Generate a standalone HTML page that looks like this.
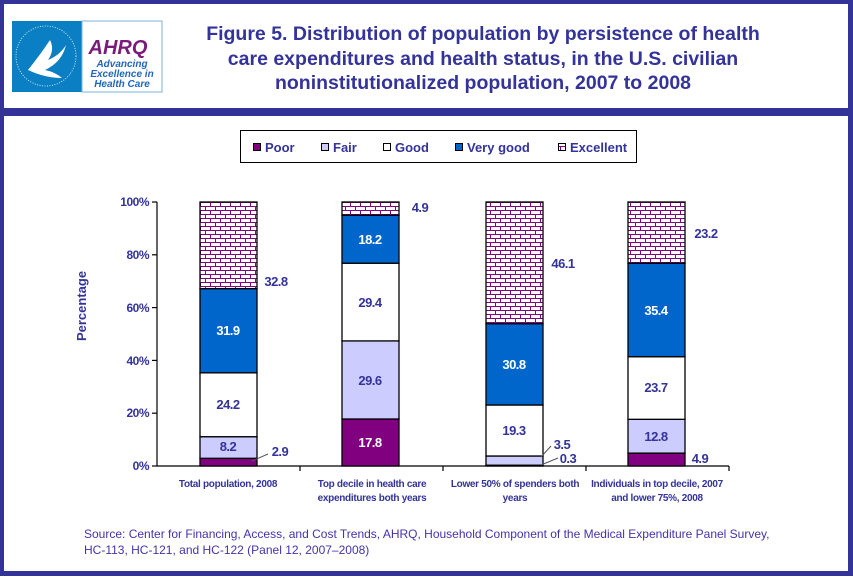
<!DOCTYPE html>
<html><head><meta charset="utf-8"><style>
html,body{margin:0;padding:0;background:#fff}
body{width:853px;height:576px;overflow:hidden;font-family:"Liberation Sans",sans-serif}
</style></head><body>
<svg width="853" height="576" xmlns="http://www.w3.org/2000/svg" font-family="Liberation Sans, sans-serif">
<defs>
<pattern id="brick" width="10" height="8" patternUnits="userSpaceOnUse" x="200" y="202">
<rect width="10" height="8" fill="#fff"/>
<path d="M0 0.5H10M0 4.5H10M0.5 0V4.5M5.5 4.5V8" stroke="#800080" stroke-width="1" fill="none"/>
</pattern>
</defs>
<rect x="0" y="0" width="853" height="576" fill="#333399"/>
<rect x="4" y="4" width="844" height="104" fill="#fff"/>
<rect x="4" y="116" width="844" height="455" fill="#fff"/>
<!-- logo -->
<rect x="12" y="21" width="70" height="71" fill="#0a7fc4"/>
<path d="M28 70 Q40 55 50 40 Q55 50 48 60 Q60 55 66 45 Q62 62 45 70 Q55 72 62 78 Q45 78 28 70Z" fill="#fff"/>
<circle cx="46" cy="56" r="30" fill="none" stroke="#fff" stroke-width="0.8" stroke-dasharray="1 1.5"/>
<rect x="82" y="21" width="80" height="71" fill="#fff" stroke="#7fb3d9"/>
<text x="118" y="54" font-size="20" font-weight="bold" font-style="italic" fill="#7a1a7a" text-anchor="middle">AHRQ</text>
<text x="122" y="67" font-size="10" font-style="italic" font-weight="bold" fill="#2266bb" text-anchor="middle">Advancing</text>
<text x="122" y="77" font-size="10" font-style="italic" font-weight="bold" fill="#2266bb" text-anchor="middle">Excellence in</text>
<text x="122" y="87" font-size="10" font-style="italic" font-weight="bold" fill="#2266bb" text-anchor="middle">Health Care</text>
<g fill="#333399" font-size="19.5" font-weight="bold" text-anchor="middle">
<text x="483" y="40">Figure 5. Distribution of population by persistence of health</text>
<text x="483" y="65">care expenditures and health status, in the U.S. civilian</text>
<text x="483" y="89">noninstitutionalized population, 2007 to 2008</text>
</g>
<!-- legend -->
<rect x="240.5" y="130.5" width="396" height="32" fill="#fff" stroke="#000"/>
<g font-size="13" font-weight="bold" fill="#333399">
<rect x="253.5" y="143.5" width="7" height="7" fill="#800080" stroke="#000"/><text x="265" y="152">Poor</text>
<rect x="321.5" y="143.5" width="7" height="7" fill="#ccccff" stroke="#000"/><text x="333" y="152">Fair</text>
<rect x="383.5" y="143.5" width="7" height="7" fill="#fff" stroke="#000"/><text x="395" y="152">Good</text>
<rect x="455.5" y="143.5" width="7" height="7" fill="#0066cc" stroke="#000"/><text x="467" y="152">Very good</text>
<rect x="558.5" y="143.5" width="7" height="7" fill="url(#brick)" stroke="#000"/><text x="570" y="152">Excellent</text>
</g>
<!-- axes -->
<g stroke="#000" stroke-width="1.2">
<line x1="157" y1="202" x2="157" y2="466"/>
<line x1="157" y1="466" x2="729" y2="466"/>
<line x1="152" y1="202" x2="157" y2="202"/><line x1="152" y1="254.8" x2="157" y2="254.8"/>
<line x1="152" y1="307.6" x2="157" y2="307.6"/><line x1="152" y1="360.4" x2="157" y2="360.4"/>
<line x1="152" y1="413.2" x2="157" y2="413.2"/><line x1="152" y1="466" x2="157" y2="466"/>
<line x1="300" y1="466" x2="300" y2="471"/><line x1="443" y1="466" x2="443" y2="471"/>
<line x1="586" y1="466" x2="586" y2="471"/><line x1="729" y1="466" x2="729" y2="471"/>
</g>
<g font-size="12" font-weight="bold" fill="#333399" text-anchor="end" letter-spacing="-0.5">
<text x="149" y="206">100%</text><text x="149" y="259">80%</text><text x="149" y="312">60%</text>
<text x="149" y="365">40%</text><text x="149" y="417">20%</text><text x="149" y="470">0%</text>
</g>
<text transform="translate(86,306) rotate(-90)" font-size="13" font-weight="bold" fill="#333399" text-anchor="middle">Percentage</text>
<!-- bars -->
<g stroke="#000" stroke-width="1.3">
<rect x="200" y="458.3" width="57" height="7.7" fill="#800080"/>
<rect x="200" y="436.7" width="57" height="21.6" fill="#ccccff"/>
<rect x="200" y="372.8" width="57" height="63.9" fill="#fff"/>
<rect x="200" y="288.6" width="57" height="84.2" fill="#0066cc"/>
<rect x="200" y="202" width="57" height="86.6" fill="url(#brick)"/>

<rect x="342" y="419" width="57" height="47" fill="#800080"/>
<rect x="342" y="340.9" width="57" height="78.1" fill="#ccccff"/>
<rect x="342" y="263.2" width="57" height="77.7" fill="#fff"/>
<rect x="342" y="215.2" width="57" height="48" fill="#0066cc"/>
<rect x="342" y="202" width="57" height="13.2" fill="url(#brick)"/>

<rect x="486" y="465.2" width="57" height="0.8" fill="#800080"/>
<rect x="486" y="456" width="57" height="9.2" fill="#ccccff"/>
<rect x="486" y="405" width="57" height="51" fill="#fff"/>
<rect x="486" y="323.7" width="57" height="81.3" fill="#0066cc"/>
<rect x="486" y="202" width="57" height="121.7" fill="url(#brick)"/>

<rect x="628" y="453.1" width="57" height="12.9" fill="#800080"/>
<rect x="628" y="419.3" width="57" height="33.8" fill="#ccccff"/>
<rect x="628" y="356.7" width="57" height="62.6" fill="#fff"/>
<rect x="628" y="263.2" width="57" height="93.5" fill="#0066cc"/>
<rect x="628" y="202" width="57" height="61.2" fill="url(#brick)"/>
</g>
<g stroke="#555" stroke-width="1">
<line x1="252" y1="461" x2="268" y2="454"/>
<line x1="541" y1="457" x2="551" y2="446"/>
<line x1="541" y1="465" x2="558" y2="458"/>
</g>
<g font-size="13" font-weight="bold" fill="#333399" text-anchor="middle" letter-spacing="-0.5">
<text x="228" y="451">8.2</text><text x="228" y="409">24.2</text><text x="228" y="335" fill="#fff">31.9</text>
<text x="276" y="286">32.8</text><text x="280" y="456">2.9</text>
<text x="370" y="447" fill="#fff">17.8</text><text x="370" y="385">29.6</text><text x="370" y="307">29.4</text>
<text x="370" y="244" fill="#fff">18.2</text><text x="420" y="212">4.9</text>
<text x="514" y="435">19.3</text><text x="514" y="369" fill="#fff">30.8</text><text x="563" y="268">46.1</text>
<text x="562" y="449">3.5</text><text x="568" y="463">0.3</text>
<text x="656" y="441">12.8</text><text x="656" y="392">23.7</text><text x="656" y="315" fill="#fff">35.4</text>
<text x="706" y="238">23.2</text><text x="700" y="463">4.9</text>
</g>
<g font-size="10" font-weight="bold" fill="#333399" text-anchor="middle" letter-spacing="-0.3">
<text x="228" y="487">Total population, 2008</text>
<text x="372" y="487">Top decile in health care</text><text x="372" y="501">expenditures both years</text>
<text x="515" y="487">Lower 50% of spenders both</text><text x="515" y="501">years</text>
<text x="657" y="487">Individuals in top decile, 2007</text><text x="657" y="501">and lower 75%, 2008</text>
</g>
<g font-size="12" fill="#4433aa">
<text x="84" y="538">Source: Center for Financing, Access, and Cost Trends, AHRQ, Household Component of the Medical Expenditure Panel Survey,</text>
<text x="84" y="554">HC-113, HC-121, and HC-122 (Panel 12, 2007–2008)</text>
</g>
</svg>
</body></html>
